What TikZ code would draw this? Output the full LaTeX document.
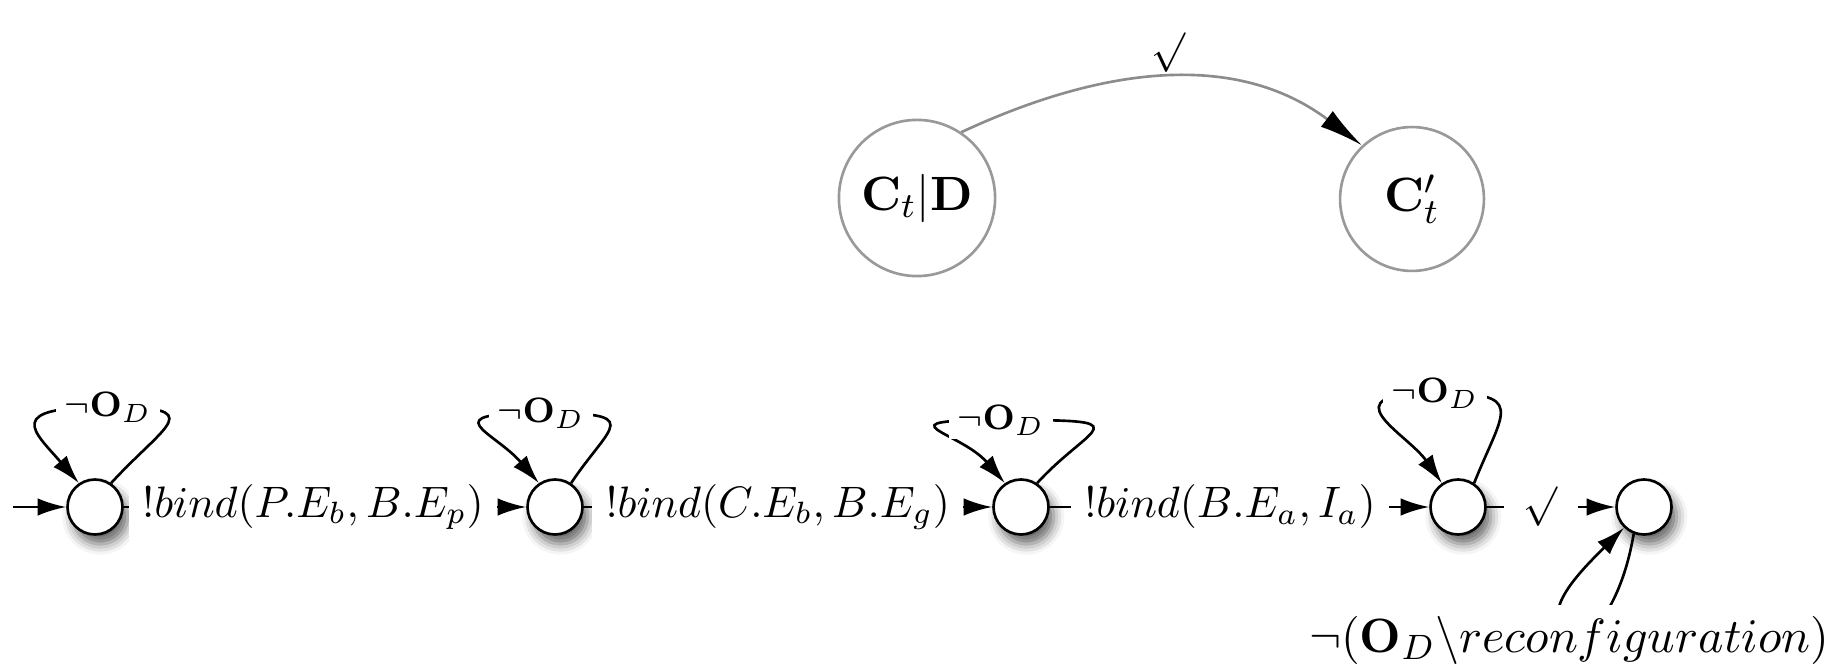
\documentclass[tikz,border=0pt]{standalone}
\usetikzlibrary{arrows.meta,shadows.blur,calc}
\begin{document}
\begin{tikzpicture}[x=0.2273pt,y=-0.2273pt,
  state/.style={circle,draw,line width=0.6pt,fill=white,inner sep=0pt,minimum size=12.5pt,
    blur shadow={shadow xshift=1.2pt,shadow yshift=-2.2pt,shadow blur radius=2.4pt,shadow opacity=60}},
  bigstate/.style={circle,draw=black!40,line width=0.6pt,inner sep=0pt,font=\fontsize{11}{13}\selectfont},
  edge/.style={line width=0.6pt,-{Latex[length=6.5pt,width=4pt]}},
  grayedge/.style={draw=black!45,line width=0.6pt,-{Latex[length=10pt,width=4.5pt,fill=black,color=black]}},
  elabel/.style={fill=white,inner xsep=3pt,inner ysep=2pt,font=\fontsize{10}{12}\selectfont},
  looplabel/.style={fill=white,inner xsep=2pt,inner ysep=1pt,font=\fontsize{8.5}{10}\selectfont},
  biglabel/.style={fill=white,inner sep=2.5pt,font=\fontsize{10.8}{13}\selectfont}
]
\useasboundingbox (0,0) rectangle (1834,669);

% top part
\node[bigstate,minimum size=35.5pt] (ct) at (917,198) {$\mathbf{C}_t|\mathbf{D}$};
\node[bigstate,minimum size=32.7pt] (ctp) at (1412,199) {$\mathbf{C}'_t$};
\draw[grayedge] (ct.56) to[out=25,in=143]
  node[midway,anchor=south,inner sep=0pt,yshift=1pt,font=\fontsize{9.3}{11}\selectfont] {$\surd$} (ctp.133);

% bottom row
\node[state] (n1) at (95,507) {};
\node[state] (n2) at (555,507) {};
\node[state] (n3) at (1021,507) {};
\node[state] (n4) at (1458,507) {};
\node[state] (n5) at (1644,507) {};
\coordinate (init) at (13,507);

\draw[edge] (init) -- (n1);
\draw[edge] (n1) -- node[elabel,pos=0.47] {$!bind(P.E_b, B.E_p)$} (n2);
\draw[edge] (n2) -- node[elabel,pos=0.475] {$!bind(C.E_b, B.E_g)$} (n3);
\draw[edge] (n3) -- node[elabel,pos=0.475] {$!bind(B.E_a, I_a)$} (n4);
\draw[edge] (n4) -- node[elabel,pos=0.42,inner xsep=4.5pt,font=\fontsize{9}{10}\selectfont] {$\surd$} (n5);

% self loops
\draw[edge] (n1.56) .. controls +(55,-60) and +(102,0) .. ($(n1)+(13,-100)$)
  node[looplabel] {$\neg\mathbf{O}_D$}
  .. controls +(-106,0) and +(-45,-52) .. (n1.124);
\draw[edge] (n2.56) .. controls +(40,-60) and +(105,0) .. ($(n2)+(-14,-94)$)
  node[looplabel] {$\neg\mathbf{O}_D$}
  .. controls +(-110,0) and +(-45,-52) .. (n2.124);
\draw[edge] (n3.56) .. controls +(55,-60) and +(144,0) .. ($(n3)+(-20,-87)$)
  node[looplabel] {$\neg\mathbf{O}_D$}
  .. controls +(-125,0) and +(-45,-52) .. (n3.124);
\draw[edge] (n4.56) .. controls +(30,-75) and +(93,0) .. ($(n4)+(-23,-114)$)
  node[looplabel] {$\neg\mathbf{O}_D$}
  .. controls +(-110,0) and +(-35,-50) .. (n4.124);
\draw[edge] (n5.-111) .. controls +(-6,35) and +(30,-30) .. ($(n5)+(-59,133)$)
  node[biglabel,xshift=-3.6pt] {$\neg(\mathbf{O}_D\backslash reconfiguration)$}
  .. controls +(-60,-15) and +(-45,45) .. (n5.226);
\end{tikzpicture}
\end{document}
